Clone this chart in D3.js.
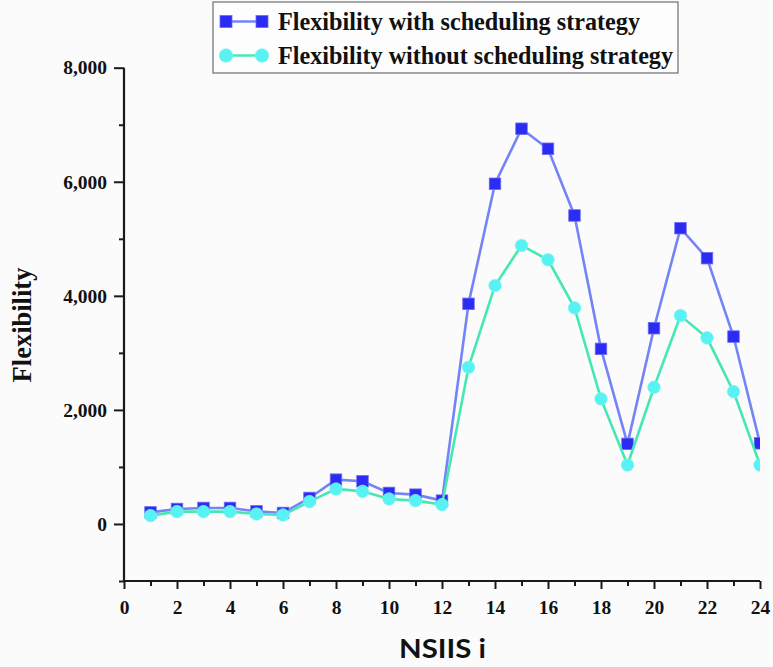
<!DOCTYPE html>
<html>
<head>
<meta charset="utf-8">
<script src="https://cdn.jsdelivr.net/npm/d3@7/dist/d3.min.js"></script>
<style>
  html, body { margin: 0; padding: 0; background: #fbfbfb; }
  svg { display: block; }
</style>
</head>
<body>
<svg id="chart" width="773" height="667"></svg>
<script>
// ---- data ----
const hours = [1,2,3,4,5,6,7,8,9,10,11,12,13,14,15,16,17,18,19,20,21,22,23,24];
const withStrategy = [203,263,281,281,222,193,456,777,748,544,514,409,3860,5965,6930,6579,5409,3070,1404,3432,5186,4660,3286,1414];
const withoutStrategy = [146,216,216,216,175,158,391,614,572,439,409,339,2748,4181,4883,4632,3789,2193,1035,2397,3654,3263,2321,1035];
const seriesNames = ["Flexibility with scheduling strategy", "Flexibility without scheduling strategy"];
const xTicks = [0,2,4,6,8,10,12,14,16,18,20,22,24];
const xMinorTicks = [1,3,5,7,9,11,13,15,17,19,21,23];
const yTicks = [0,2000,4000,6000,8000];
const yMinorTicks = [-1000,1000,3000,5000,7000];
const xTitle = "NSIIS i";
const yTitle = "Flexibility";

(function () {
// ---- layout ----
const svg = d3.select("#chart");
const pL = 124, pR = 760, pT = 67.7, pB = 581;
const x = d3.scaleLinear().domain([0, 24]).range([pL, pR]);
const y = d3.scaleLinear().domain([-1000, 8000]).range([pB, pT]);

const axisColor = "#1a1a1a";
const serif = "'Liberation Serif', 'Times New Roman', serif";

// clip
svg.append("defs").append("clipPath").attr("id", "plotclip")
  .append("rect").attr("x", pL).attr("y", pT - 20).attr("width", pR - pL).attr("height", pB - pT + 20);

// x axis
const xAxis = svg.append("g").attr("transform", `translate(0,${pB})`)
  .call(d3.axisBottom(x).tickValues(xTicks).tickSize(8).tickPadding(11).tickFormat(d3.format("d")));
svg.append("g").attr("transform", `translate(0,${pB})`)
  .call(d3.axisBottom(x).tickValues(xMinorTicks).tickSize(5).tickFormat(""))
  .call(g => g.select(".domain").remove());

// y axis
const yAxis = svg.append("g").attr("transform", `translate(${pL},0)`)
  .call(d3.axisLeft(y).tickValues(yTicks).tickSize(10).tickPadding(7).tickFormat(d3.format(",")));
svg.append("g").attr("transform", `translate(${pL},0)`)
  .call(d3.axisLeft(y).tickValues(yMinorTicks).tickSize(5).tickFormat(""))
  .call(g => g.select(".domain").remove());

xAxis.select(".domain").attr("d", `M${pL},0H${pR}`);
yAxis.select(".domain").attr("d", `M0,${y(8000)}V${pB}`);
svg.selectAll(".domain").attr("stroke", axisColor).attr("stroke-width", 2.2);
svg.selectAll(".tick line").attr("stroke", axisColor).attr("stroke-width", 2);
svg.selectAll(".tick text").attr("fill", "#111").style("font-family", serif)
  .style("font-weight", "bold").style("font-size", "19.5px");

// titles
svg.append("text").attr("x", 442.5).attr("y", 658).attr("text-anchor", "middle")
  .style("font-family", "Lato, 'Open Sans', sans-serif").style("font-weight", "bold")
  .style("font-size", "26px").attr("fill", "#111")
  .attr("textLength", 87).attr("lengthAdjust", "spacingAndGlyphs").text(xTitle);
svg.append("text").attr("transform", "translate(31,325) rotate(-90)").attr("text-anchor", "middle")
  .style("font-family", serif).style("font-weight", "bold")
  .style("font-size", "26.5px").attr("fill", "#111").text(yTitle);

// series
const c1 = { line: "#7484f6", fill: "#2b2bf2", stroke: "#6a6af8" };
const c2 = { line: "#45e8b4", fill: "#58f2f2", stroke: "#7ff5f5" };
const plot = svg.append("g").attr("clip-path", "url(#plotclip)");
const line = d3.line().x((d, i) => x(hours[i])).y(d => y(d));

plot.append("path").datum(withStrategy).attr("d", line)
  .attr("fill", "none").attr("stroke", c1.line).attr("stroke-width", 2.6);
const sq = 11.5;
plot.selectAll(".sq").data(withStrategy).join("rect").attr("class", "sq")
  .attr("x", (d, i) => x(hours[i]) - sq / 2).attr("y", d => y(d) - sq / 2)
  .attr("width", sq).attr("height", sq)
  .attr("fill", c1.fill).attr("stroke", c1.stroke).attr("stroke-width", 0.8);

plot.append("path").datum(withoutStrategy).attr("d", line)
  .attr("fill", "none").attr("stroke", c2.line).attr("stroke-width", 2.6);
plot.selectAll(".ci").data(withoutStrategy).join("circle").attr("class", "ci")
  .attr("cx", (d, i) => x(hours[i])).attr("cy", d => y(d)).attr("r", 6.3)
  .attr("fill", c2.fill).attr("stroke", c2.stroke).attr("stroke-width", 0.6);

// legend
const lg = svg.append("g");
lg.append("rect").attr("x", 213).attr("y", 2).attr("width", 465).attr("height", 71)
  .attr("fill", "#fdfdfd").attr("stroke", "#6e6e6e").attr("stroke-width", 1.2);
const rows = [{ cy: 21.5, c: c1, type: "sq", name: seriesNames[0], len: 362 },
              { cy: 55.5, c: c2, type: "ci", name: seriesNames[1], len: 395 }];
rows.forEach(r => {
  lg.append("line").attr("x1", 226).attr("x2", 262).attr("y1", r.cy).attr("y2", r.cy)
    .attr("stroke", r.c.line).attr("stroke-width", 2.6);
  [226, 262].forEach(cx => {
    if (r.type === "sq") {
      lg.append("rect").attr("x", cx - 6).attr("y", r.cy - 6).attr("width", 12).attr("height", 12)
        .attr("fill", r.c.fill).attr("stroke", r.c.stroke).attr("stroke-width", 0.8);
    } else {
      lg.append("circle").attr("cx", cx).attr("cy", r.cy).attr("r", 6.8)
        .attr("fill", r.c.fill).attr("stroke", r.c.stroke).attr("stroke-width", 0.6);
    }
  });
  lg.append("text").attr("x", 278).attr("y", r.cy + 8.5)
    .style("font-family", serif).style("font-weight", "bold").style("font-size", "24.5px")
    .attr("textLength", r.len).attr("lengthAdjust", "spacingAndGlyphs")
    .attr("fill", "#111").text(r.name);
});
})();
</script>
</body>
</html>
